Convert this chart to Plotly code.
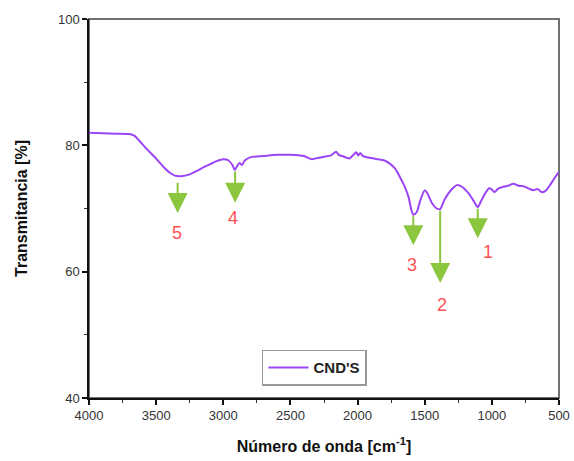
import plotly.graph_objects as go

# FTIR spectrum of CND'S (wavenumber in cm^-1, transmittance in %)
wavenumber = [4000, 3900, 3800, 3700, 3660, 3620, 3560, 3500, 3450, 3400, 3360, 3300,
              3250, 3200, 3150, 3100, 3050, 3000, 2960, 2930, 2915, 2900, 2880, 2860,
              2840, 2800, 2700, 2600, 2500, 2400, 2340, 2300, 2250, 2200, 2160, 2140,
              2100, 2060, 2040, 2010, 1995, 1980, 1960, 1900, 1850, 1800, 1760, 1720,
              1680, 1650, 1620, 1600, 1585, 1560, 1530, 1500, 1480, 1450, 1410, 1385,
              1350, 1300, 1260, 1220, 1170, 1130, 1105, 1080, 1050, 1020, 1000, 980,
              950, 920, 880, 840, 800, 760, 720, 690, 660, 630, 600, 570, 540, 500]
transmittance = [82.0, 81.9, 81.85, 81.8, 81.5, 80.6, 79.2, 77.9, 76.7, 75.7, 75.2, 75.15,
                 75.4, 75.9, 76.5, 77.0, 77.5, 77.8, 77.6, 76.8, 76.1, 76.6, 77.2, 76.9,
                 77.6, 78.1, 78.3, 78.5, 78.5, 78.3, 77.8, 78.0, 78.2, 78.4, 79.0, 78.5,
                 78.2, 77.9, 78.3, 78.9, 78.4, 78.8, 78.3, 78.0, 77.8, 77.6, 77.1, 76.3,
                 74.8, 73.5, 71.8, 69.8, 69.0, 69.4, 71.5, 72.9, 72.4, 71.0, 70.0, 69.9,
                 71.5, 73.0, 73.7, 73.4, 72.3, 71.0, 70.2, 71.2, 72.4, 73.2, 73.0, 72.6,
                 73.2, 73.4, 73.6, 73.9, 73.6, 73.5, 73.1, 72.9, 73.1, 72.6, 72.8, 73.6,
                 74.6, 75.8]

# Marked absorption bands: arrow position, tail/tip levels and label placement
band_labels = ["1", "2", "3", "4", "5"]
band_wn = [1105, 1385, 1585, 2912, 3340]
arrow_tail = [70.2, 69.9, 69.0, 76.1, 74.3]
arrow_tip = [65.3, 58.2, 64.2, 70.9, 69.3]
label_wn = [1030, 1371, 1597, 2928, 3345]
label_val = [63.1, 54.7, 61.1, 68.5, 66.1]

y_ticks = [40, 60, 80, 100]
x_ticks = [4000, 3500, 3000, 2500, 2000, 1500, 1000, 500]

fig = go.Figure()
fig.add_trace(go.Scatter(
    x=wavenumber, y=transmittance, mode="lines", name="<b>CND'S</b>",
    line=dict(color="#9b45f5", width=2, shape="spline", smoothing=0.6),
))

annotations = []
for wn, t0, t1 in zip(band_wn, arrow_tail, arrow_tip):
    annotations.append(dict(
        x=wn, y=t1, ax=wn, ay=t0, xref="x", yref="y", axref="x", ayref="y",
        text="", showarrow=True, arrowhead=2, arrowsize=2.0, arrowwidth=2,
        arrowcolor="#8cc63f", standoff=0, startstandoff=0,
    ))
for lab, wn, v in zip(band_labels, label_wn, label_val):
    annotations.append(dict(
        x=wn, y=v, xref="x", yref="y", text=lab, showarrow=False,
        font=dict(family="Liberation Sans, Arial", size=18, color="#ff5050"),
    ))

fig.update_layout(
    width=574, height=461,
    margin=dict(l=89, r=15, t=19, b=63),
    plot_bgcolor="white", paper_bgcolor="white",
    font=dict(family="Liberation Sans, Arial", size=13, color="#333333"),
    annotations=annotations,
    showlegend=True,
    legend=dict(
        x=0.368, y=0.127, xanchor="left", yanchor="top",
        bordercolor="#999999", borderwidth=1.5, bgcolor="white",
        font=dict(family="Liberation Sans, Arial", size=15, color="#222222"),
        itemwidth=40, tracegroupgap=0,
    ),
    shapes=[dict(type="rect", xref="paper", yref="paper", x0=0, x1=1, y0=0, y1=1,
                 line=dict(color="#707070", width=2), layer="below")],
)

fig.update_xaxes(
    range=[4000, 500], tickvals=x_ticks, showgrid=False, zeroline=False,
    automargin=False,
    showline=True, linecolor="#111111", linewidth=1.5,
    ticks="outside", ticklen=5, tickwidth=1.5, tickcolor="#111111",
    minor=dict(dtick=250, ticks="outside", ticklen=3, tickwidth=1.2, tickcolor="#333333"),
    title=dict(text="<b>Número de onda [cm<sup>-1</sup>]</b>", standoff=18,
               font=dict(family="Liberation Sans, Arial", size=16, color="#111111")),
)
fig.update_yaxes(
    range=[40, 100], tickvals=y_ticks, showgrid=False, zeroline=False,
    automargin=False,
    showline=True, linecolor="#111111", linewidth=1.5,
    ticks="outside", ticklen=5, tickwidth=1.5, tickcolor="#111111",
    minor=dict(dtick=10, ticks="outside", ticklen=3, tickwidth=1.2, tickcolor="#333333"),
    title=dict(text="<b>Transmitancia [%]</b>", standoff=26,
               font=dict(family="Liberation Sans, Arial", size=16, color="#111111")),
)

fig.write_html("out.html")
